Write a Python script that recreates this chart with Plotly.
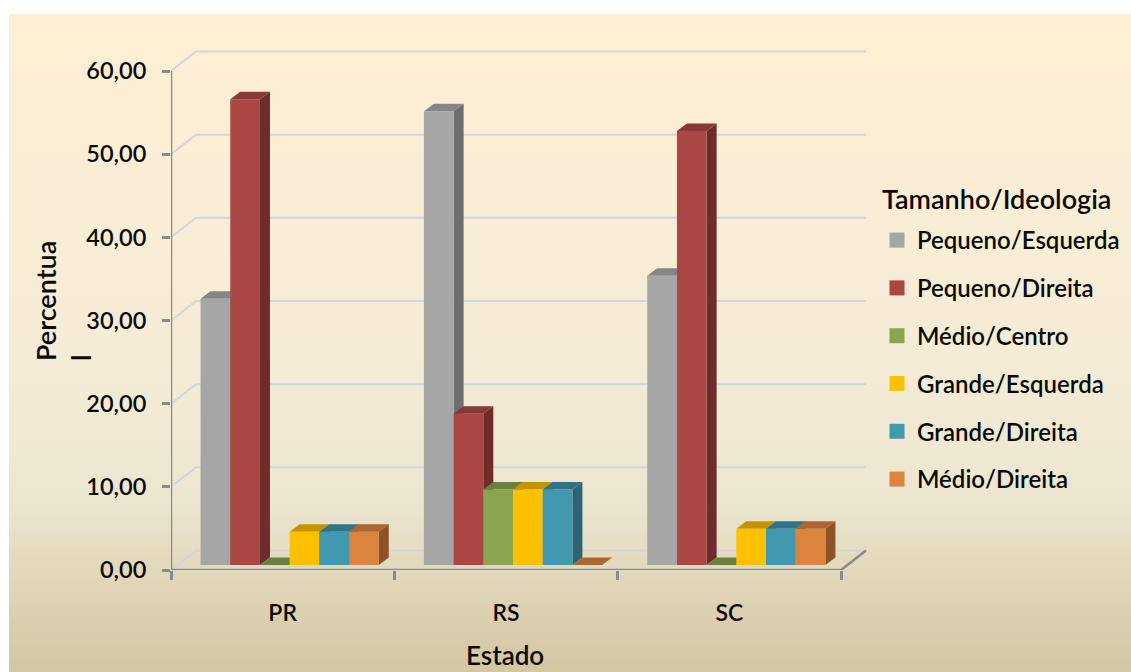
import plotly.graph_objects as go

states = ["PR", "RS", "SC"]
series_names = ["Pequeno/Esquerda", "Pequeno/Direita", "Médio/Centro",
                "Grande/Esquerda", "Grande/Direita", "Médio/Direita"]
pequeno_esquerda = [32.00, 54.55, 34.78]
pequeno_direita = [56.00, 18.18, 52.17]
medio_centro = [0.00, 9.09, 0.00]
grande_esquerda = [4.00, 9.09, 4.35]
grande_direita = [4.00, 9.09, 4.35]
medio_direita = [4.00, 0.00, 4.35]
series_values = [pequeno_esquerda, pequeno_direita, medio_centro,
                 grande_esquerda, grande_direita, medio_direita]
y_ticks = [0, 10, 20, 30, 40, 50, 60]

front = ["#A6A6A6", "#AA4643", "#89A54E", "#FFC000", "#4198AF", "#DB843D"]
top = ["#858585", "#883835", "#6C803D", "#C49400", "#317488", "#AE6630"]
side = ["#6E6E6E", "#6E2C2A", "#586932", "#A07A00", "#2B6475", "#8C5426"]

W, H = 1131, 672
X0, X1, Y0, Y1 = 171, 880, 570, 40      # plot rectangle in pixels
PXX = (841 - 171) / 3                   # pixels per category
PXY = (570 - 71) / 60                   # pixels per percent
xr = [-0.5, -0.5 + (X1 - X0) / PXX]
yr = [0, (Y0 - Y1) / PXY]
wall_dx, wall_dy = 25 / PXX, 19.5 / PXY
bar_dx, bar_dy = 10 / PXX, 7.5 / PXY
base_shift_x, base_y = 7 / PXX, 5 / PXY
bar_w = 29.7 / PXX

AXIS = "#8A8A8A"
GRID = "#D2D5DD"
FONT = "Lato"
TXT = "#0A0A0A"

fig = go.Figure()

# back wall and side wall grid lines
gx, gy = [], []
for v in y_ticks:
    gx += [-0.5, -0.5 + wall_dx, 2.5 + wall_dx, None]
    gy += [v, v + wall_dy, v + wall_dy, None]
fig.add_trace(go.Scatter(x=gx, y=gy, mode="lines", line=dict(color=GRID, width=2),
                         hoverinfo="skip", showlegend=False, cliponaxis=False))
# axis lines
fig.add_trace(go.Scatter(x=[-0.5, -0.5, None, -0.5, 2.5, 2.5 + wall_dx],
                         y=[60, 0, None, 0, 0, wall_dy], mode="lines",
                         line=dict(color=AXIS, width=2.5), hoverinfo="skip", showlegend=False,
                         cliponaxis=False))


def face(xs, ys, color):
    fig.add_trace(go.Scatter(x=xs + xs[:1], y=ys + ys[:1], mode="lines", fill="toself",
                             fillcolor=color, line=dict(width=0, color=color),
                             hoverinfo="skip", showlegend=False))


def left_edge(c, s):
    return c + base_shift_x + (s - 3) * bar_w


# side and top faces, painted left to right
for c in range(len(states)):
    for s, vals in enumerate(series_values):
        v = vals[c]
        l = left_edge(c, s)
        r = l + bar_w
        yb = base_y
        yt = base_y + v
        if v > 0:
            face([r, r + bar_dx, r + bar_dx, r],
                 [yb, yb + bar_dy, yt + bar_dy, yt], side[s])
        face([l, r, r + bar_dx, l + bar_dx],
             [yt, yt, yt + bar_dy, yt + bar_dy], top[s])

# legend swatches
for s, name in enumerate(series_names):
    fig.add_trace(go.Scatter(x=[None], y=[None], mode="markers", name=name, legendgroup=name,
                             marker=dict(symbol="square", size=15, color=front[s])))

# front faces, on an overlaid axis pair so they sit above the faces
for s, name in enumerate(series_names):
    fig.add_trace(go.Bar(x=[left_edge(c, s) + bar_w / 2 for c in range(len(states))],
                         y=series_values[s], base=[base_y] * len(states), width=bar_w,
                         name=name, legendgroup=name, showlegend=False,
                         marker=dict(color=front[s], line=dict(width=0)),
                         xaxis="x2", yaxis="y2"))

# parchment background
stops = [(14, (254, 239, 211)), (200, (249, 237, 213)), (350, (245, 236, 214)),
         (500, (236, 230, 208)), (570, (226, 216, 187)), (620, (219, 207, 176)), (672, (210, 198, 163))]


def bg_color(y):
    for (a, ca), (b, cb) in zip(stops, stops[1:]):
        if y <= b:
            t = (y - a) / (b - a)
            return "rgb(%d,%d,%d)" % tuple(round(p + (q - p) * t) for p, q in zip(ca, cb))
    return "rgb(%d,%d,%d)" % stops[-1][1]


shapes = []
for y in range(14, H, 4):
    shapes.append(dict(type="rect", xref="paper", yref="paper", layer="below",
                       x0=9 / W, x1=1, y0=1 - y / H, y1=0,
                       fillcolor=bg_color(y + 2), line=dict(width=0)))

fig.update_layout(
    width=W, height=H, margin=dict(l=0, r=0, t=0, b=0), paper_bgcolor="white",
    plot_bgcolor="rgba(0,0,0,0)", separators=",.", barmode="overlay", shapes=shapes,
    font=dict(family=FONT, color=TXT),
    xaxis=dict(domain=[X0 / W, X1 / W], range=xr, tickmode="array", tickvals=[0, 1, 2], ticktext=states,
               automargin=False,
               showgrid=False, zeroline=False, showline=False, ticks="", ticklabelstandoff=27,
               tickfont=dict(family=FONT, size=23, color=TXT, weight=600),
               minor=dict(tickmode="array", tickvals=[-0.5, 0.5, 1.5, 2.5], ticks="outside", ticklen=9,
                          tickwidth=2.5, tickcolor=AXIS, showgrid=False)),
    yaxis=dict(domain=[1 - Y0 / H, 1 - Y1 / H], range=yr, tickmode="array", tickvals=y_ticks, tickformat=".2f",
               automargin=False,
               showgrid=False, zeroline=False, showline=False, ticks="outside", ticklen=8, tickwidth=2.5,
               tickcolor=AXIS, ticklabelstandoff=11,
               tickfont=dict(family=FONT, size=23.5, color=TXT, weight=600)),
    xaxis2=dict(domain=[X0 / W, X1 / W], range=xr, overlaying="x", visible=False),
    yaxis2=dict(domain=[1 - Y0 / H, 1 - Y1 / H], range=yr, overlaying="y", visible=False),
    legend=dict(x=877 / W, y=1 - 218 / H, xanchor="left", yanchor="top", bgcolor="rgba(0,0,0,0)",
                font=dict(family=FONT, size=24, color=TXT, weight=600),
                itemwidth=30, tracegroupgap=13.6, traceorder="grouped", itemclick=False, itemdoubleclick=False),
    annotations=[
        dict(text="Percentua<br>l", textangle=-90, xref="paper", yref="paper", x=63 / W, y=1 - 301 / H,
             xanchor="center", yanchor="middle",
             showarrow=False, align="left", font=dict(family=FONT, size=27, color=TXT, weight=600)),
        dict(text="Estado", xref="paper", yref="paper", x=505 / W, y=1 - 655 / H, showarrow=False,
             xanchor="center", yanchor="middle",
             font=dict(family=FONT, size=26, color=TXT, weight=600)),
        dict(text="Tamanho/Ideologia", xref="paper", yref="paper", x=880 / W, y=1 - 199 / H, showarrow=False,
             xanchor="left", yanchor="middle",
             font=dict(family=FONT, size=27, color=TXT, weight=600)),
    ],
)

fig.write_html("out.html", config={"displayModeBar": False},
               post_script="document.body.style.margin='0';")
